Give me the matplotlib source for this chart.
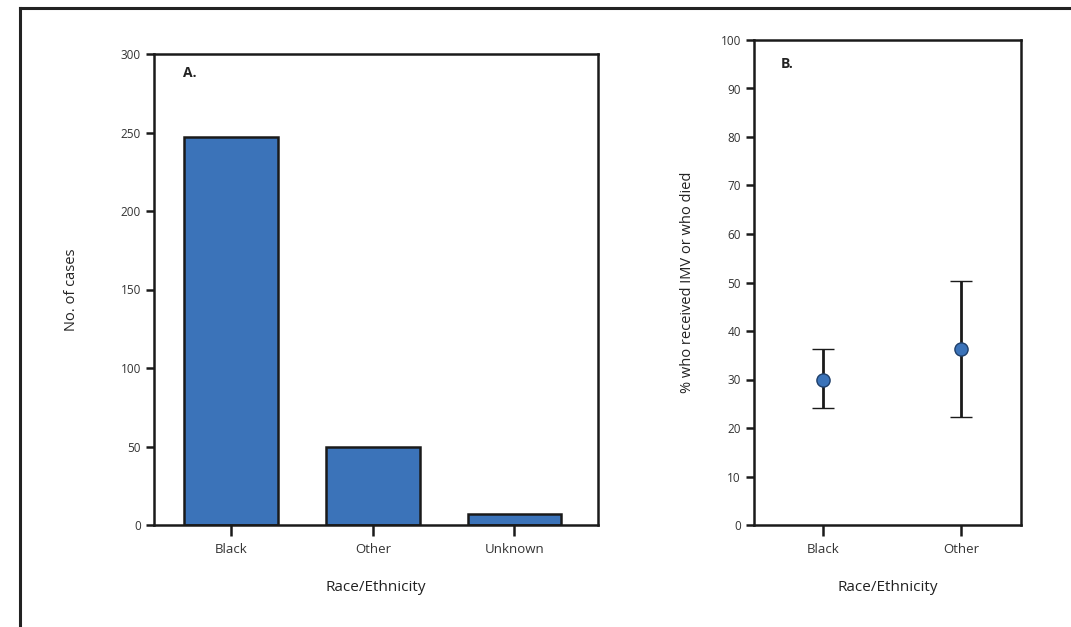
import matplotlib.pyplot as plt

# data
groups_a = ["Black", "Other", "Unknown"]
cases = [247, 50, 7]

groups_b = ["Black", "Other"]
pct = [30.0, 36.3]
ci_low = [24.1, 22.2]
ci_high = [36.3, 50.4]

blue = "#3b73b9"
plt.rcParams['font.family'] = ['Open Sans', 'DejaVu Sans']

fig = plt.figure(figsize=(10.71, 6.27), dpi=100)
W, H = 1071, 627

# outer frame (open on the right / bottom as in the source)
fig.add_artist(plt.Line2D([20 / W, 20 / W], [0, 1 - 8 / H], color="#222222", lw=2.2))
fig.add_artist(plt.Line2D([20 / W, 1], [1 - 8 / H, 1 - 8 / H], color="#222222", lw=2.2))


def style(ax):
    for s in ax.spines.values():
        s.set_linewidth(1.8)
        s.set_color("#1a1a1a")
    ax.tick_params(direction="out", length=6, width=1.8, labelsize=8.5,
                   colors="#1a1a1a", labelcolor="#333333")
    ax.tick_params(axis="x", length=8, pad=5, labelsize=9.5)


# panel A
axA = fig.add_axes([154 / W, 1 - 525 / H, (598 - 154) / W, (525 - 54) / H])
axA.bar(range(len(groups_a)), cases, width=0.66, color=blue,
        edgecolor="#1a1a1a", linewidth=1.8)
axA.set_xlim(-0.545, 2.59)
axA.set_ylim(0, 300)
axA.set_yticks(range(0, 301, 50))
axA.set_xticks(range(len(groups_a)))
axA.set_xticklabels(groups_a)
axA.set_ylabel("No. of cases", fontsize=10.5, labelpad=30, color="#222222")
axA.set_xlabel("Race/Ethnicity", fontsize=11, labelpad=17, color="#222222")
axA.text(0.066, 0.975, "A.", transform=axA.transAxes, fontsize=10,
         fontweight="bold", va="top", color="#222222")
style(axA)

# panel B
axB = fig.add_axes([754 / W, 1 - 525 / H, (1021 - 754) / W, (525 - 40) / H])
xb = range(len(groups_b))
yerr = [[p - lo for p, lo in zip(pct, ci_low)], [hi - p for p, hi in zip(pct, ci_high)]]
axB.errorbar(xb, pct, yerr=yerr, fmt="o", color="#1a1a1a", ecolor="#1a1a1a",
             elinewidth=2, capsize=8, capthick=2.4, markersize=9.5,
             markerfacecolor=blue, markeredgecolor="#1f3f6a", markeredgewidth=1)
axB.set_xlim(-0.5, 1.435)
axB.set_ylim(0, 100)
axB.set_yticks(range(0, 101, 10))
axB.set_xticks(list(xb))
axB.set_xticklabels(groups_b)
axB.set_ylabel("% who received IMV or who died", fontsize=10.5, labelpad=18,
               color="#222222")
axB.set_xlabel("Race/Ethnicity", fontsize=11, labelpad=17, color="#222222")
axB.text(0.1, 0.965, "B.", transform=axB.transAxes, fontsize=10,
         fontweight="bold", va="top", color="#222222")
style(axB)

fig.savefig("out.png", dpi=100)
